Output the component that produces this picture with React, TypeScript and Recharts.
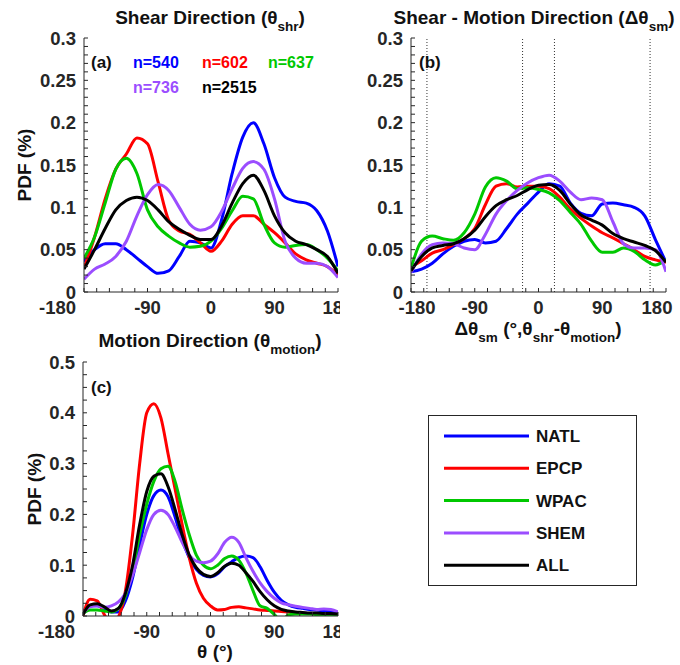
import { LineChart, Line, XAxis, YAxis, ReferenceLine } from "recharts";

const FONT = '"Liberation Sans", Arial, Helvetica, sans-serif';
const AXIS = "#262626";

const regions = ["NATL", "EPCP", "WPAC", "SHEM", "ALL"];
const COLORS: Record<string, string> = {
  NATL: "#0000ff",
  EPCP: "#ff0000",
  WPAC: "#00c800",
  SHEM: "#9b4dff",
  ALL: "#000000",
};
const sampleCounts = ["n=540", "n=602", "n=637", "n=736", "n=2515"];

// x grid for panels (a), (b): every 15 deg
const angles15 = [
  -180, -165, -150, -135, -120, -105, -90, -75, -60, -45, -30, -15, 0, 15, 30,
  45, 60, 75, 90, 105, 120, 135, 150, 165, 180,
];
// x grid for panel (c): every 10 deg
const angles10 = [
  -180, -170, -160, -150, -140, -130, -120, -110, -100, -90, -80, -70, -60,
  -50, -40, -30, -20, -10, 0, 10, 20, 30, 40, 50, 60, 70, 80, 90, 100, 110,
  120, 130, 140, 150, 160, 170, 180,
];

// (a) shear direction
const shrNATL = [0.036, 0.05, 0.057, 0.057, 0.05, 0.04, 0.03, 0.022, 0.025, 0.042, 0.06, 0.058, 0.052, 0.085, 0.14, 0.183, 0.2, 0.175, 0.135, 0.112, 0.107, 0.105, 0.096, 0.072, 0.03];
const shrEPCP = [0.028, 0.065, 0.11, 0.145, 0.163, 0.182, 0.175, 0.13, 0.085, 0.072, 0.068, 0.058, 0.048, 0.06, 0.08, 0.09, 0.09, 0.08, 0.07, 0.058, 0.045, 0.038, 0.034, 0.03, 0.02];
const shrWPAC = [0.04, 0.065, 0.105, 0.145, 0.158, 0.14, 0.097, 0.077, 0.066, 0.058, 0.053, 0.054, 0.06, 0.075, 0.096, 0.113, 0.11, 0.08, 0.058, 0.053, 0.055, 0.056, 0.05, 0.04, 0.025];
const shrSHEM = [0.015, 0.027, 0.033, 0.042, 0.06, 0.09, 0.115, 0.127, 0.12, 0.1, 0.08, 0.073, 0.077, 0.095, 0.122, 0.146, 0.154, 0.145, 0.11, 0.06, 0.04, 0.034, 0.034, 0.03, 0.017];
const shrALL = [0.027, 0.05, 0.075, 0.097, 0.108, 0.112, 0.108, 0.097, 0.083, 0.074, 0.067, 0.062, 0.062, 0.078, 0.105, 0.128, 0.138, 0.12, 0.09, 0.07, 0.06, 0.056, 0.05, 0.042, 0.022];

// (b) shear - motion direction
const smNATL = [0.024, 0.027, 0.034, 0.045, 0.054, 0.06, 0.062, 0.058, 0.06, 0.075, 0.092, 0.105, 0.118, 0.128, 0.125, 0.105, 0.093, 0.09, 0.104, 0.105, 0.103, 0.1, 0.09, 0.062, 0.035];
const smEPCP = [0.03, 0.037, 0.046, 0.05, 0.056, 0.063, 0.075, 0.103, 0.125, 0.128, 0.124, 0.125, 0.125, 0.122, 0.112, 0.098, 0.087, 0.078, 0.07, 0.064, 0.057, 0.05, 0.042, 0.038, 0.035];
const smWPAC = [0.028, 0.06, 0.066, 0.063, 0.061, 0.07, 0.092, 0.124, 0.135, 0.131, 0.122, 0.123, 0.121, 0.117, 0.108, 0.094, 0.08, 0.06, 0.047, 0.047, 0.052, 0.048, 0.038, 0.032, 0.038];
const smSHEM = [0.023, 0.045, 0.056, 0.058, 0.057, 0.052, 0.05, 0.068, 0.092, 0.108, 0.12, 0.129, 0.135, 0.138, 0.131, 0.118, 0.109, 0.111, 0.109, 0.083, 0.057, 0.052, 0.052, 0.05, 0.024];
const smALL = [0.025, 0.042, 0.052, 0.055, 0.057, 0.063, 0.073, 0.089, 0.102, 0.109, 0.114, 0.121, 0.126, 0.127, 0.12, 0.104, 0.091, 0.085, 0.079, 0.069, 0.063, 0.059, 0.055, 0.049, 0.035];

// (c) motion direction
const mNATL = [0.008, 0.02, 0.02, 0.015, 0.008, 0.008, 0.03, 0.075, 0.14, 0.2, 0.237, 0.248, 0.235, 0.195, 0.15, 0.115, 0.092, 0.08, 0.077, 0.083, 0.097, 0.107, 0.115, 0.118, 0.115, 0.097, 0.07, 0.047, 0.031, 0.022, 0.017, 0.015, 0.013, 0.012, 0.01, 0.009, 0.007];
const mEPCP = [0.0, 0.033, 0.03, 0.003, -0.015, -0.002, 0.05, 0.16, 0.3, 0.4, 0.418, 0.39, 0.32, 0.25, 0.18, 0.115, 0.065, 0.035, 0.02, 0.012, 0.013, 0.017, 0.018, 0.016, 0.014, 0.012, 0.011, 0.01, 0.009, 0.008, 0.007, 0.006, 0.005, 0.005, 0.004, 0.003, 0.003];
const mWPAC = [0.005, 0.012, 0.012, 0.01, 0.008, 0.015, 0.04, 0.09, 0.16, 0.22, 0.265, 0.29, 0.295, 0.265, 0.21, 0.16, 0.12, 0.1, 0.093, 0.1, 0.113, 0.118, 0.11, 0.085, 0.05, 0.02, 0.015, 0.003, -0.01, 0.002, 0.004, 0.004, 0.004, 0.003, 0.003, 0.003, 0.003];
const mSHEM = [0.005, 0.018, 0.02, 0.017, 0.02, 0.028, 0.045, 0.08, 0.125, 0.17, 0.2, 0.208, 0.2, 0.175, 0.145, 0.12, 0.108, 0.105, 0.108, 0.122, 0.145, 0.155, 0.145, 0.115, 0.088, 0.065, 0.048, 0.035, 0.026, 0.022, 0.019, 0.017, 0.015, 0.013, 0.014, 0.013, 0.008];
const mALL = [0.003, 0.022, 0.024, 0.018, 0.01, 0.015, 0.045, 0.1, 0.18, 0.245, 0.275, 0.28, 0.255, 0.21, 0.16, 0.12, 0.095, 0.082, 0.078, 0.085, 0.098, 0.104, 0.1, 0.085, 0.068, 0.048, 0.032, 0.02, 0.013, 0.01, 0.008, 0.007, 0.006, 0.006, 0.005, 0.005, 0.004];

const xMajor = [-180, -90, 0, 90, 180];
const xLabels = ["-180", "-90", "0", "90", "180"];
const yMajorAB = [0, 0.05, 0.1, 0.15, 0.2, 0.25, 0.3];
const yLabelsAB = ["0", "0.05", "0.1", "0.15", "0.2", "0.25", "0.3"];
const yMajorC = [0, 0.1, 0.2, 0.3, 0.4, 0.5];
const yLabelsC = ["0", "0.1", "0.2", "0.3", "0.4", "0.5"];
const boundaryAngles = [-157.5, -22.5, 22.5, 157.5];

const xTicks = Array.from({ length: 21 }, (_, i) => -180 + i * 18);
const yTicksAB = Array.from({ length: 31 }, (_, i) => +(i * 0.01).toFixed(2));
const yTicksC = Array.from({ length: 21 }, (_, i) => +(i * 0.025).toFixed(3));

function toRows(angles: number[], series: number[][]) {
  return angles.map((x, i) => {
    const row: Record<string, number> = { x };
    regions.forEach((r, k) => (row[r] = series[k][i]));
    return row;
  });
}

const rowsA = toRows(angles15, [shrNATL, shrEPCP, shrWPAC, shrSHEM, shrALL]);
const rowsB = toRows(angles15, [smNATL, smEPCP, smWPAC, smSHEM, smALL]);
const rowsC = toRows(angles10, [mNATL, mEPCP, mWPAC, mSHEM, mALL]);

const labelFor = (majors: number[], labels: string[]) => (v: number) => {
  const k = majors.findIndex((m) => Math.abs(m - v) < 1e-6);
  return k >= 0 ? labels[k] : "";
};

const TICK_FS = 18.5;
const tickStyle = { fill: AXIS, fontSize: TICK_FS, fontWeight: "bold", fontFamily: FONT };

// x tick labels; the end labels are nudged like in the original figure
function makeXTick(endShift: { left: number; right: number; leftAnchor: string }) {
  return (p: any) => {
    const v = p.payload.value;
    const label = labelFor(xMajor, xLabels)(v);
    if (!label) return <g />;
    let dx = 0;
    let anchor = "middle";
    if (v === -180) {
      dx = endShift.left;
      anchor = endShift.leftAnchor;
    } else if (v === 180) dx = endShift.right;
    return (
      <text
        x={p.x + dx}
        y={p.y}
        dy="0.72em"
        textAnchor={anchor}
        fill={AXIS}
        fontSize={TICK_FS}
        fontWeight="bold"
        fontFamily={FONT}
      >
        {label}
      </text>
    );
  };
}

function Panel(props: {
  rows: Record<string, number>[];
  width: number;
  height: number;
  margin: { top: number; right: number; bottom: number; left: number };
  yMax: number;
  yTicks: number[];
  yMajor: number[];
  yLabels: string[];
  refs?: number[];
  xTick: (p: any) => any;
}) {
  const { rows, width, height, margin, yMax, yTicks, yMajor, yLabels, refs, xTick } = props;
  return (
    <LineChart width={width} height={height} data={rows} margin={margin}>
      <XAxis
        dataKey="x"
        type="number"
        domain={[-180, 180]}
        ticks={xTicks}
        interval={0}
        tickSize={-4}
        tickMargin={13}
        height={30}
        stroke={AXIS}
        tick={xTick}
        allowDataOverflow
      />
      <XAxis
        xAxisId="top"
        orientation="top"
        type="number"
        domain={[-180, 180]}
        ticks={xTicks}
        interval={0}
        tick={false}
        tickSize={-4}
        height={0}
        stroke={AXIS}
        allowDataOverflow
      />
      <YAxis
        type="number"
        domain={[0, yMax]}
        ticks={yTicks}
        interval={0}
        tickFormatter={labelFor(yMajor, yLabels)}
        tickSize={-4}
        tickMargin={12}
        width={50}
        stroke={AXIS}
        tick={tickStyle}
        allowDataOverflow
      />
      <YAxis
        yAxisId="right"
        orientation="right"
        type="number"
        domain={[0, yMax]}
        ticks={yTicks}
        interval={0}
        tick={false}
        tickSize={-4}
        width={0}
        stroke={AXIS}
        allowDataOverflow
      />
      {(refs || []).map((a) => (
        <ReferenceLine key={a} x={a} stroke="#333" strokeWidth={1} strokeDasharray="1 2" />
      ))}
      {regions.map((r) => (
        <Line
          key={r}
          dataKey={r}
          type="monotone"
          stroke={COLORS[r]}
          strokeWidth={3}
          dot={false}
          isAnimationActive={false}
        />
      ))}
    </LineChart>
  );
}

const txt = { fontFamily: FONT, fontWeight: "bold" as const, fill: "#111" };
const TITLE_FS = 19;
const SUB_FS = 13.5;

const xTickAC = makeXTick({ left: -8, right: 0, leftAnchor: "end" });
const xTickB = makeXTick({ left: 6, right: -9, leftAnchor: "middle" });

export default function App() {
  return (
    <div style={{ position: "relative", width: 680, height: 665, background: "#fff", fontFamily: FONT }}>
      <style>{`body{margin:0}`}</style>

      <div style={{ position: "absolute", left: 0, top: 0 }}>
        <Panel
          rows={rowsA}
          width={340}
          height={330}
          margin={{ top: 38, right: 2, bottom: 8, left: 34 }}
          yMax={0.3}
          yTicks={yTicksAB}
          yMajor={yMajorAB}
          yLabels={yLabelsAB}
          xTick={xTickAC}
        />
      </div>
      <div style={{ position: "absolute", left: 340, top: 0 }}>
        <Panel
          rows={rowsB}
          width={340}
          height={330}
          margin={{ top: 38, right: 14, bottom: 8, left: 21 }}
          yMax={0.3}
          yTicks={yTicksAB}
          yMajor={yMajorAB}
          yLabels={yLabelsAB}
          refs={boundaryAngles}
          xTick={xTickB}
        />
      </div>
      <div style={{ position: "absolute", left: 0, top: 330 }}>
        <Panel
          rows={rowsC}
          width={340}
          height={335}
          margin={{ top: 32, right: 2, bottom: 19, left: 33 }}
          yMax={0.5}
          yTicks={yTicksC}
          yMajor={yMajorC}
          yLabels={yLabelsC}
          xTick={xTickAC}
        />
      </div>

      <svg width={680} height={665} style={{ position: "absolute", left: 0, top: 0, pointerEvents: "none" }}>
        <text x={210} y={24} textAnchor="middle" fontSize={TITLE_FS} {...txt}>
          Shear Direction (θ<tspan fontSize={SUB_FS} dy={7}>shr</tspan><tspan dy={-7}>)</tspan>
        </text>
        <text x={534} y={24} textAnchor="middle" fontSize={TITLE_FS} {...txt}>
          Shear - Motion Direction (Δθ<tspan fontSize={SUB_FS} dy={7}>sm</tspan><tspan dy={-7}>)</tspan>
        </text>
        <text x={210} y={347} textAnchor="middle" fontSize={TITLE_FS} {...txt}>
          Motion Direction (θ<tspan fontSize={SUB_FS} dy={7}>motion</tspan><tspan dy={-7}>)</tspan>
        </text>
        <text x={538} y={335} textAnchor="middle" fontSize={TITLE_FS} {...txt}>
          Δθ<tspan fontSize={SUB_FS} dy={7}>sm</tspan>
          <tspan dy={-7}> (°,θ</tspan>
          <tspan fontSize={SUB_FS} dy={7}>shr</tspan>
          <tspan dy={-7}>-θ</tspan>
          <tspan fontSize={SUB_FS} dy={7}>motion</tspan>
          <tspan dy={-7}>)</tspan>
        </text>
        <text x={215} y={658} textAnchor="middle" fontSize={TITLE_FS} {...txt}>θ (°)</text>
        <text transform="translate(31,165) rotate(-90)" textAnchor="middle" fontSize={TITLE_FS} {...txt}>PDF (%)</text>
        <text transform="translate(41,489) rotate(-90)" textAnchor="middle" fontSize={TITLE_FS} {...txt}>PDF (%)</text>

        <text x={91} y={68} fontSize={17} {...txt}>(a)</text>
        <text x={419} y={68} fontSize={17} {...txt}>(b)</text>
        <text x={91} y={393} fontSize={17} {...txt}>(c)</text>

        <text x={133} y={68} fontSize={16} {...txt} fill={COLORS.NATL}>{sampleCounts[0]}</text>
        <text x={202} y={68} fontSize={16} {...txt} fill={COLORS.EPCP}>{sampleCounts[1]}</text>
        <text x={268} y={68} fontSize={16} {...txt} fill={COLORS.WPAC}>{sampleCounts[2]}</text>
        <text x={133} y={93} fontSize={16} {...txt} fill={COLORS.SHEM}>{sampleCounts[3]}</text>
        <text x={202} y={93} fontSize={16} {...txt} fill={COLORS.ALL}>{sampleCounts[4]}</text>
      </svg>

      <div
        style={{
          position: "absolute",
          left: 428,
          top: 415,
          width: 209,
          height: 171,
          border: `1px solid ${AXIS}`,
          boxSizing: "border-box",
        }}
      >
        <svg width={207} height={169}>
          {regions.map((r, i) => (
            <g key={r}>
              <line x1={15} x2={100} y1={20 + i * 32.3} y2={20 + i * 32.3} stroke={COLORS[r]} strokeWidth={3} />
              <text x={107} y={26 + i * 32.3} fontSize={17} {...txt}>{r}</text>
            </g>
          ))}
        </svg>
      </div>
    </div>
  );
}
